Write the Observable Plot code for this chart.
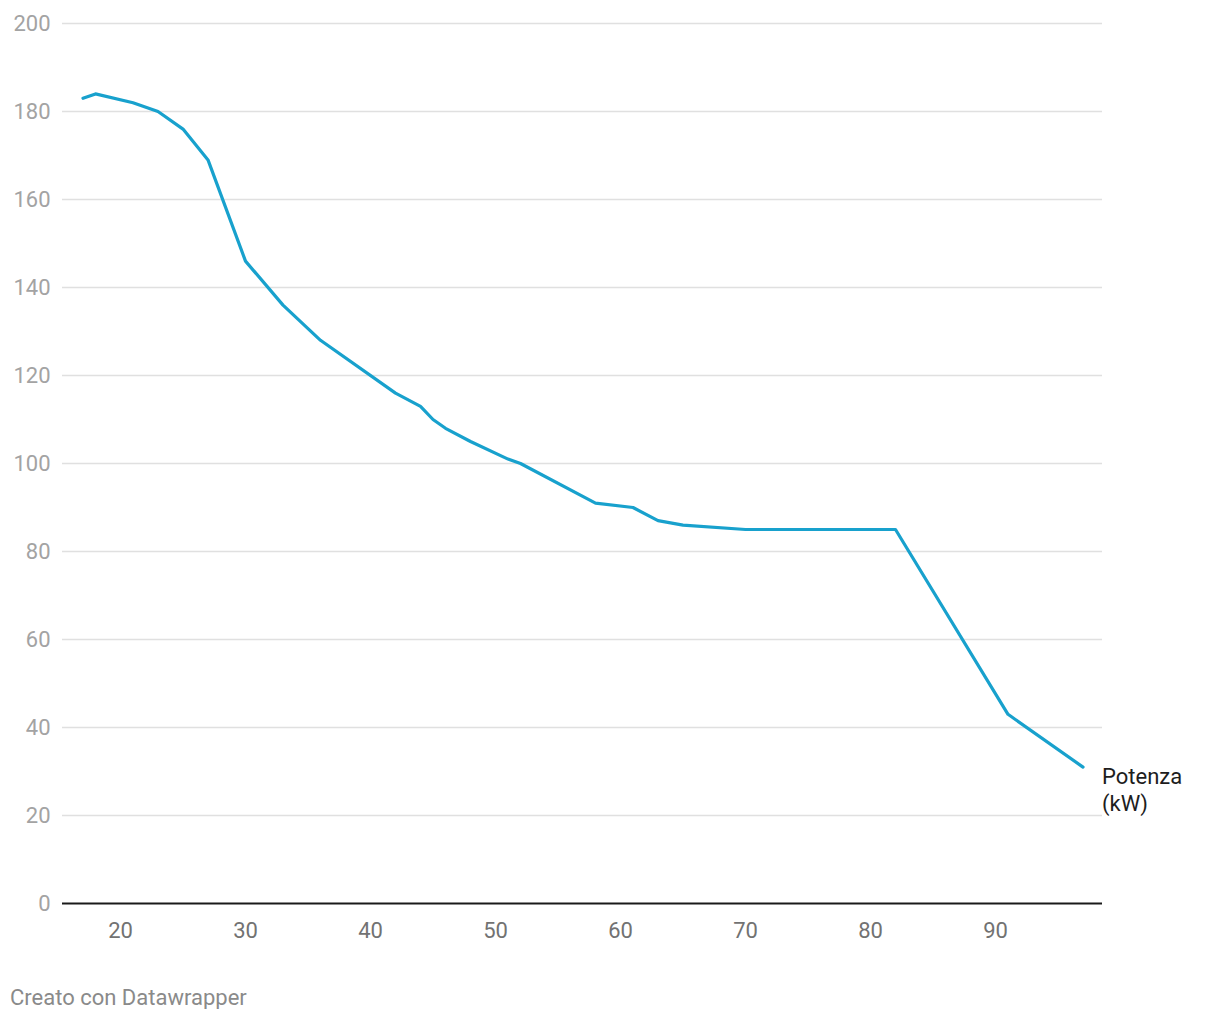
<!DOCTYPE html>
<html>
<head>
<meta charset="utf-8">
<script src="https://cdn.jsdelivr.net/npm/d3@7"></script>
<script src="https://cdn.jsdelivr.net/npm/@observablehq/plot@0.6"></script>
<style>
  html, body { margin: 0; padding: 0; background: #fff; }
  body { width: 1220px; font-family: Roboto, "Noto Sans", sans-serif; }
  #caption { margin-top: 27px; padding-left: 10px; font-size: 22px; line-height: 22px; color: #8a8a8a; }
</style>
</head>
<body>
<div id="chart"></div>
<div id="caption">Creato con Datawrapper</div>
<script>
// State of charge (%) and charging power (kW)
const soc     = [17, 18, 21, 23, 25, 27, 30, 33, 36, 42, 44, 45, 46, 48, 51, 52, 58, 61, 63, 65, 70, 82, 91, 97];
const potenza = [183, 184, 182, 180, 176, 169, 146, 136, 128, 116, 113, 110, 108, 105, 101, 100, 91, 90, 87, 86, 85, 85, 43, 31];
const yTicks = [0, 20, 40, 60, 80, 100, 120, 140, 160, 180, 200];
const xTicks = [20, 30, 40, 50, 60, 70, 80, 90];
const seriesLabel = "Potenza\n(kW)";

const data = soc.map((s, i) => ({soc: s, kw: potenza[i]}));
const last = [data[data.length - 1]];

const chart = Plot.plot({
  width: 1220,
  height: 960,
  marginTop: 23,
  marginBottom: 57,
  marginLeft: 62,
  marginRight: 118,
  style: {fontFamily: "Roboto, 'Noto Sans', sans-serif", fontSize: "22px", background: "#fff"},
  x: {domain: [15.36, 98.56]},
  y: {domain: [0, 200]},
  marks: [
    Plot.gridY(yTicks.filter(d => d > 0), {stroke: "#e0e0e0", strokeOpacity: 1, strokeWidth: 1.4}),
    Plot.axisY(yTicks, {tickSize: 0, tickPadding: 12, fill: "#a3a3a3", fontSize: 22, label: null}),
    Plot.axisX(xTicks, {tickSize: 0, tickPadding: 19, fill: "#727272", fontSize: 22, label: null}),
    Plot.ruleY([0], {stroke: "#1a1a1a", strokeWidth: 2}),
    Plot.line(data, {x: "soc", y: "kw", stroke: "#18a1cd", strokeWidth: 3.2, strokeLinejoin: "round", strokeLinecap: "round"}),
    Plot.text(last, {x: "soc", y: "kw", text: () => seriesLabel, textAnchor: "start", lineAnchor: "top", dx: 19, dy: -1.5, lineHeight: 1.2, fontSize: 22, fill: "#1d1d1d"})
  ]
});
document.getElementById("chart").appendChild(chart);
</script>
</body>
</html>
